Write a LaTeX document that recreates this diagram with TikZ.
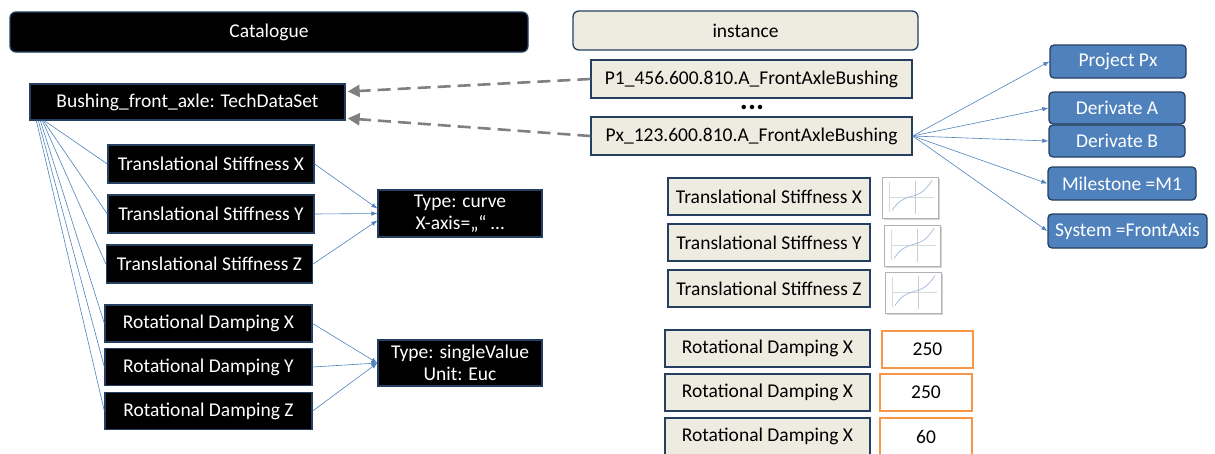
\documentclass[tikz,border=0pt]{standalone}
\usepackage{fontspec}
\setmainfont{Carlito}
\usetikzlibrary{arrows.meta,shadows,calc}
\definecolor{navy}{HTML}{243F60}
\definecolor{beige}{HTML}{EEECE1}
\definecolor{accent}{HTML}{4F81BD}
\definecolor{orng}{HTML}{F79646}

\tikzset{
  base/.style={draw=navy, line width=1.3pt, inner sep=0pt, align=center,
    font=\fontsize{19.5}{22}\selectfont},
  blackbox/.style={base, fill=black, text=white},
  beigebox/.style={base, fill=beige, text=black},
  bluebox/.style={base, fill=accent, text=white, rounded corners=4pt},
  valbox/.style={draw=orng, line width=1.3pt, fill=white, inner sep=0pt,
    font=\fontsize{19.5}{22}\selectfont},
  sz/.style 2 args={minimum width=#1, minimum height=#2},
  link/.style={draw=accent, line width=0.6pt, -{Latex[length=6pt,width=4.5pt]}},
  fan/.style={draw=accent, line width=0.6pt},
  refarrow/.style={draw=gray, line width=2.6pt, dash pattern=on 13pt off 7pt,
    -{Triangle[length=12pt,width=12pt]}},
  chart/.pic={
    \node[draw=gray!60, fill=white, line width=0.6pt, minimum width=56pt, minimum height=41pt,
      drop shadow={shadow xshift=2pt, shadow yshift=-2pt, opacity=0.35}] (-frame) {};
    \draw[gray!30, line width=0.3pt] (-21,0) -- (24,0);
    \draw[gray!40, line width=0.4pt] (5,-17) -- (5,16);
    \draw[gray!30, line width=0.3pt] (-21,-16) -- (-21,14);
    \draw[accent!55, line width=0.7pt] (-18,13) .. controls (-12,4) and (-7,1) .. (1,-1)
      .. controls (9,-3) and (14,-5) .. (22,-17);
  }
}

\begin{document}
\begin{tikzpicture}[x=1pt,y=-1pt]
\useasboundingbox (0,0) rectangle (1215,453);

% headers
\node[blackbox, rounded corners=6pt, sz={518pt}{40pt}] (cat) at (269,32) {Catalogue};
\node[beigebox, rounded corners=6pt, sz={345pt}{39pt}] (inst) at (745.5,30.5) {instance};

% catalogue side
\node[blackbox, sz={315pt}{36pt}] (bush) at (187.5,102) {Bushing\_front\_axle: TechDataSet};
\node[blackbox, sz={206pt}{38pt}] (tsx) at (211,164) {Translational Stiffness X};
\node[blackbox, sz={206pt}{38pt}] (tsy) at (211,214) {Translational Stiffness Y};
\node[blackbox, sz={206pt}{38pt}] (tsz) at (209.5,264) {Translational Stiffness Z};
\node[blackbox, sz={207pt}{37pt}] (rdx) at (208.5,323.5) {Rotational Damping X};
\node[blackbox, sz={207pt}{37pt}] (rdy) at (208.5,367) {Rotational Damping Y};
\node[blackbox, sz={207pt}{37pt}] (rdz) at (208.5,411) {Rotational Damping Z};
\node[blackbox, sz={164pt}{47pt}] (curve) at (460,213.5) {Type: curve\\X-axis=„“ …};
\node[blackbox, sz={164pt}{46pt}] (single) at (460,363) {Type: singleValue\\Unit: Euc};

% instance side
\node[beigebox, sz={321pt}{38pt}] (p1) at (751.5,79) {P1\_456.600.810.A\_FrontAxleBushing};
\node[font=\bfseries\fontsize{30}{30}\selectfont, inner sep=0pt, text height=5pt,
  text depth=0pt, anchor=base] (dots) at (752,109) {...};
\node[beigebox, sz={321pt}{38pt}] (px) at (751.5,136) {Px\_123.600.810.A\_FrontAxleBushing};

\node[bluebox, sz={136pt}{33pt}] (proj) at (1118,61.5) {Project Px};
\node[bluebox, sz={136pt}{32pt}] (dera) at (1117,108) {Derivate A};
\node[bluebox, sz={136pt}{32pt}] (derb) at (1117,141) {Derivate B};
\node[bluebox, sz={148pt}{33pt}] (mile) at (1122,183.5) {Milestone =M1};
\node[bluebox, sz={159pt}{34pt}] (sys) at (1127.5,231) {System =FrontAxis};

\node[beigebox, sz={202pt}{37pt}] (itsx) at (769,196.5) {Translational Stiffness X};
\node[beigebox, sz={202pt}{37pt}] (itsy) at (769,242.5) {Translational Stiffness Y};
\node[beigebox, sz={202pt}{37pt}] (itsz) at (769,288.5) {Translational Stiffness Z};
\pic (cx) at (910,197.5) {chart};
\pic (cy) at (912,245.5) {chart};
\pic (cz) at (913,292.5) {chart};

\node[beigebox, sz={205pt}{37pt}] (irdx) at (767.5,348.5) {Rotational Damping X};
\node[beigebox, sz={205pt}{37pt}] (irdy) at (767.5,392.5) {Rotational Damping X};
\node[beigebox, sz={205pt}{37pt}] (irdz) at (767.5,436.5) {Rotational Damping X};
\node[valbox, sz={91pt}{37pt}] (vx) at (927.5,349.5) {250};
\node[valbox, sz={92pt}{37pt}] (vy) at (926,392.5) {250};
\node[valbox, sz={92pt}{37pt}] (vz) at (926,436.5) {60};

% instance references back to the catalogue entry
\draw[refarrow] (p1.west) -- ($(bush.north east)!0.22!(bush.south east)+(2,0)$);
\draw[refarrow] (px.west) -- ($(bush.north east)!0.94!(bush.south east)+(2,0)$);

% properties of the tech data set
\draw[fan] ($(bush.south west)+(15,0)$) -- (tsx.west);
\draw[fan] ($(bush.south west)+(14,0)$) -- (tsy.west);
\draw[fan] ($(bush.south west)+(13,0)$) -- (tsz.west);
\draw[fan] ($(bush.south west)+(11,0)$) -- (rdx.west);
\draw[fan] ($(bush.south west)+(9,0)$) -- (rdy.west);
\draw[fan] ($(bush.south west)+(7,0)$) -- (rdz.west);

% property types
\draw[link] (tsx.east) -- ($(curve.west)+(0,-5)$);
\draw[link] (tsy.east) -- ($(curve.west)+(0,0)$);
\draw[link] (tsz.east) -- ($(curve.west)+(0,7)$);
\draw[link] (rdx.east) -- (single.west);
\draw[link] (rdy.east) -- (single.west);
\draw[link] (rdz.east) -- (single.west);

% instance attributes
\draw[link] (px.east) -- (proj.west);
\draw[link] (px.east) -- (dera.west);
\draw[link] (px.east) -- (derb.west);
\draw[link] (px.east) -- (mile.west);
\draw[link] (px.east) -- (sys.west);
\end{tikzpicture}
\end{document}
